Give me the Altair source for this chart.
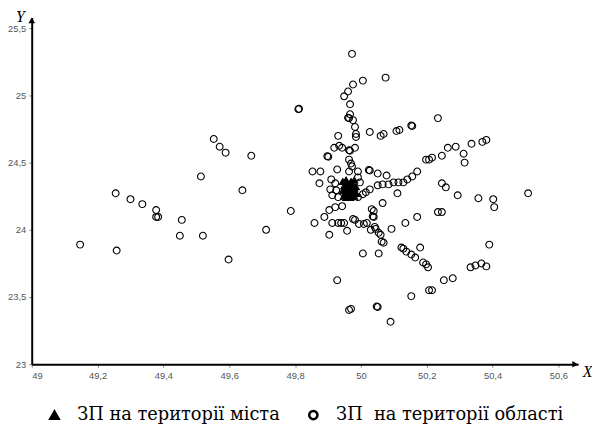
import altair as alt
import pandas as pd

# ---- data ----
circle_x = [
    # left part
    49.147, 49.255, 49.258, 49.300, 49.336, 49.378, 49.378, 49.384, 49.456, 49.450, 49.520,
    49.514, 49.553, 49.571, 49.589, 49.598, 49.640, 49.667, 49.712, 49.787, 49.810, 49.812,
    # upper branch
    49.973, 50.075, 50.006, 49.976, 49.961, 49.949, 49.967, 49.967, 49.964, 49.961, 49.976,
    49.982, 49.985, 49.985, 50.027, 49.931, 49.982, 49.967, 49.964, 49.919, 49.934, 49.943,
    49.901, 49.898, 49.964, 49.970, 49.973, 50.060, 50.069, 50.108, 50.117, 50.156, 50.153,
    50.234, 50.198, 50.207, 50.216, 50.246, 50.264, 50.288, 50.312, 50.315, 50.336, 50.369, 50.381,
    # around the city cluster
    49.853, 49.877, 49.928, 49.964, 49.991, 50.027, 50.024, 50.051, 50.078, 49.874, 49.910,
    49.922, 49.991, 49.997, 49.907, 49.913, 49.925, 49.931,
    # eastern line
    49.991, 50.006, 50.015, 50.027, 50.051, 50.066, 50.084, 50.099, 50.114, 50.129, 50.141,
    50.156, 50.171, 50.111, 50.066, 49.904, 49.922, 49.943, 50.033, 50.039, 50.039, 50.036,
    # middle row
    49.859, 49.889, 49.913, 49.931, 49.940, 49.949, 49.976, 49.982, 49.994, 50.009, 50.018,
    50.030, 50.042, 50.045, 50.054, 50.060, 50.063, 50.069, 49.904, 49.958, 50.093, 50.135,
    50.171, 50.246, 50.258, 50.294, 50.357, 50.402, 50.405, 50.508, 50.234, 50.246,
    # lower part
    50.006, 50.054, 50.123, 50.129, 50.138, 50.153, 50.165, 50.180, 50.189, 50.198, 50.204,
    50.390, 50.333, 50.348, 50.366, 50.381, 49.928, 50.252, 50.279, 50.153, 50.207, 50.216,
    49.964, 49.970, 50.051, 50.048, 50.090,
]
circle_y = [
    23.890, 24.272, 23.846, 24.228, 24.191, 24.147, 24.096, 24.096, 24.074, 23.956, 23.956,
    24.397, 24.676, 24.618, 24.574, 23.779, 24.294, 24.551, 24.000, 24.140, 24.897, 24.900,
    25.309, 25.132, 25.110, 25.081, 25.029, 24.993, 24.934, 24.860, 24.831, 24.834, 24.816,
    24.765, 24.713, 24.691, 24.728, 24.699, 24.610, 24.588, 24.592, 24.610, 24.625, 24.610,
    24.544, 24.548, 24.522, 24.493, 24.471, 24.699, 24.713, 24.735, 24.743, 24.772, 24.776,
    24.831, 24.522, 24.522, 24.537, 24.551, 24.610, 24.618, 24.566, 24.500, 24.640, 24.654, 24.669,
    24.434, 24.434, 24.449, 24.434, 24.434, 24.441, 24.445, 24.419, 24.404, 24.346, 24.375,
    24.346, 24.390, 24.353, 24.301, 24.257, 24.294, 24.243,
    24.243, 24.265, 24.279, 24.301, 24.331, 24.338, 24.338, 24.353, 24.353, 24.353, 24.375,
    24.397, 24.434, 24.272, 24.199, 24.147, 24.169, 24.176, 24.154, 24.140, 24.096, 24.100,
    24.051, 24.096, 24.051, 24.051, 24.051, 24.051, 24.081, 24.074, 24.044, 24.044, 24.051,
    24.000, 24.022, 24.007, 23.978, 23.963, 23.912, 23.904, 23.963, 23.993, 24.007, 24.051,
    24.096, 24.346, 24.316, 24.257, 24.235, 24.228, 24.169, 24.272, 24.132, 24.132,
    23.824, 23.824, 23.868, 23.860, 23.838, 23.816, 23.794, 23.868, 23.757, 23.743, 23.721,
    23.890, 23.721, 23.735, 23.750, 23.728, 23.625, 23.625, 23.640, 23.507, 23.551, 23.551,
    23.404, 23.412, 23.426, 23.430, 23.316,
]
tri_x = [49.945, 49.950, 49.955, 49.960, 49.965, 49.970, 49.975, 49.980, 49.985, 49.945,
         49.952, 49.958, 49.964, 49.970, 49.976, 49.982, 49.948, 49.955, 49.962, 49.968,
         49.974, 49.980, 49.986, 49.950, 49.958, 49.966, 49.972, 49.980, 49.952, 49.975]
tri_y = [24.36, 24.33, 24.37, 24.34, 24.31, 24.36, 24.33, 24.37, 24.32, 24.29,
         24.30, 24.27, 24.29, 24.28, 24.30, 24.28, 24.25, 24.24, 24.26, 24.24,
         24.25, 24.25, 24.27, 24.32, 24.31, 24.34, 24.30, 24.31, 24.27, 24.28]

x_ticks = [49, 49.2, 49.4, 49.6, 49.8, 50, 50.2, 50.4, 50.6]
y_ticks = [23, 23.5, 24, 24.5, 25, 25.5]

LEG_CITY = "ЗП на території міста"
LEG_REGION = "ЗП\u00a0 на території області"

rows = [{"x": a, "y": b, "type": LEG_REGION} for a, b in zip(circle_x, circle_y)]
rows += [{"x": a, "y": b, "type": LEG_CITY} for a, b in zip(tri_x, tri_y)]
df = pd.DataFrame(rows)

label_expr = "replace(format(datum.value, '.1~f'), '.', ',')"
SERIF = "DejaVu Serif"

legend = alt.Legend(
    orient="none", legendX=14, legendY=393, direction="horizontal", title=None,
    labelFont=SERIF, labelFontSize=18, labelColor="black",
    symbolSize=70, symbolStrokeWidth=2.5,
    labelOffset=14, columnPadding=23, labelLimit=400,
)

dom = [LEG_CITY, LEG_REGION]
points = alt.Chart(df).mark_point(size=48, strokeWidth=1.1, opacity=1).encode(
    x=alt.X("x:Q", scale=alt.Scale(domain=[49, 50.66], nice=False, zero=False),
            axis=alt.Axis(values=x_ticks, labelExpr=label_expr, title="X",
                          titleX=562, titleY=7, titleAlign="center", titleBaseline="middle")),
    y=alt.Y("y:Q", scale=alt.Scale(domain=[23, 25.58], nice=False, zero=False),
            axis=alt.Axis(values=y_ticks, labelExpr=label_expr, title="Y", titleAngle=0,
                          titleX=-12, titleY=-1, titleAlign="center", titleBaseline="middle")),
    shape=alt.Shape("type:N", scale=alt.Scale(domain=dom, range=["triangle-up", "circle"]),
                    legend=legend),
    fill=alt.Fill("type:N", scale=alt.Scale(domain=dom, range=["black", "transparent"]),
                  legend=legend),
    stroke=alt.Stroke("type:N", scale=alt.Scale(domain=dom, range=["black", "black"]),
                      legend=legend),
    order=alt.Order("type:N", sort="descending"),
)

one = alt.Data(values=[{"k": 1}])
arrow_x = alt.Chart(one).mark_point(shape="triangle-right", filled=True, color="black",
                                    size=45, opacity=1).encode(x=alt.value(550), y=alt.value(351))
arrow_y = alt.Chart(one).mark_point(shape="triangle-up", filled=True, color="black",
                                    size=45, opacity=1).encode(x=alt.value(0), y=alt.value(3))

chart = alt.layer(points, arrow_x, arrow_y).properties(
    width=553, height=351,
    autosize=alt.AutoSizeParams(type="none"),
    padding={"left": 24, "top": 7, "right": 14, "bottom": 64},
    background="white",
).configure_view(stroke=None).configure_axis(
    grid=False, domainColor="black", domainWidth=2, tickColor="#888888", tickSize=3,
    labelColor="#555555", labelFont="Liberation Sans", labelFontSize=9.5, labelPadding=3,
    titleFont="Liberation Serif", titleFontStyle="italic", titleFontWeight="normal",
    titleFontSize=16, titleColor="black",
).configure_legend(labelFont=SERIF, labelFontSize=18, labelColor="black")

chart.save("out.html", embed_options={"renderer": "svg", "actions": False})
